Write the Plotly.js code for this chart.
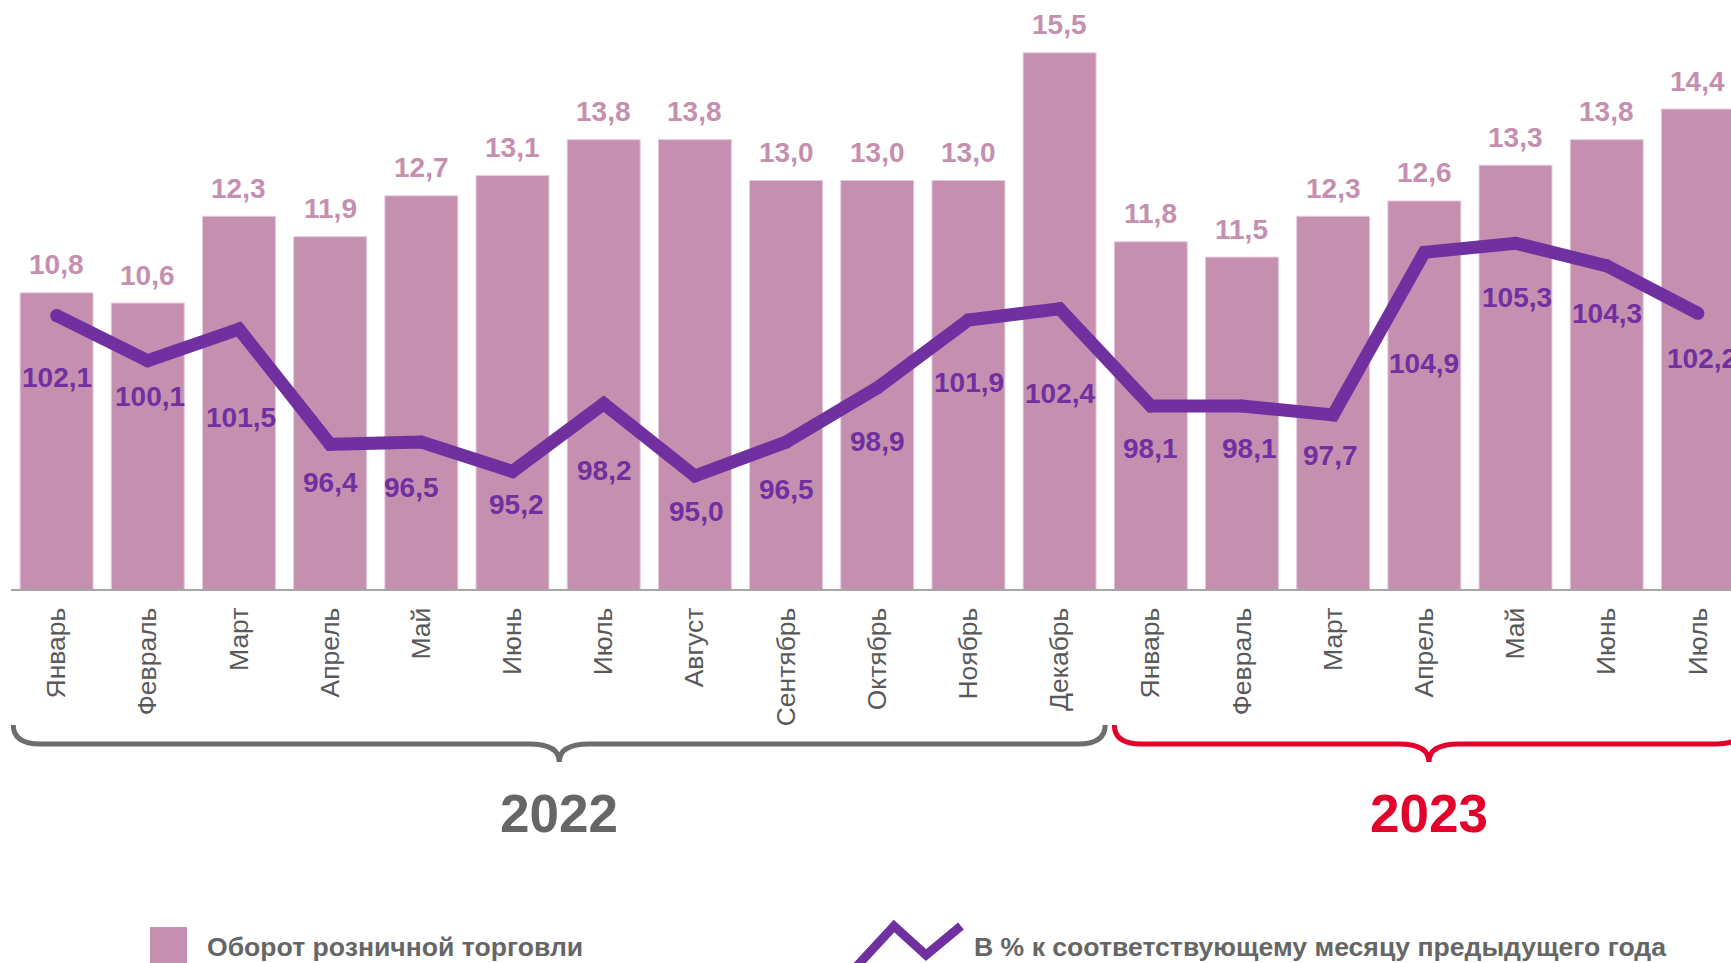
<!DOCTYPE html>
<html><head><meta charset="utf-8">
<script src="https://cdn.plot.ly/plotly-3.0.1.min.js"></script>
<style>html,body{margin:0;padding:0;background:#fff;}#chart{width:1731px;height:963px;}</style>
</head><body><div id="chart"></div>
<script>
// ---- data ----
const months = ['Январь','Февраль','Март','Апрель','Май','Июнь','Июль','Август','Сентябрь','Октябрь','Ноябрь','Декабрь','Январь','Февраль','Март','Апрель','Май','Июнь','Июль'];
const turnover = [10.8,10.6,12.3,11.9,12.7,13.1,13.8,13.8,13.0,13.0,13.0,15.5,11.8,11.5,12.3,12.6,13.3,13.8,14.4];
const yoyPercent = [102.1,100.1,101.5,96.4,96.5,95.2,98.2,95.0,96.5,98.9,101.9,102.4,98.1,98.1,97.7,104.9,105.3,104.3,102.2];
const years = ['2022','2023'];
const yearFirstIdx = [0,12];
const yearLastIdx = [11,18];
const seriesNames = ['Оборот розничной торговли','В % к соответствующему месяцу предыдущего года'];

// ---- style / layout helpers ----
const lineLabelDy = [62,36,88,38,45,33,67,35,47,54,62,85,43,43,41,111,54,48,45];
const lineLabelDx = [0,2,2,0,-10,4,1,2,0,0,1,0,0,8,-3,0,1,0,4];
const FONT = 'Liberation Sans, Arial, sans-serif';
const BAR = '#C58FB0', LINE = '#7030A0', GRAY = '#666666', RED = '#E3002B';
const W = 1731, H = 963, L = 11, R = 0, T = 0, B = 374;
const plotW = W - L - R, plotH = H - T - B;
const xr = [-0.5, 18.363];
const idx = months.map((m, i) => i);
const fmt = v => v.toFixed(1).replace('.', ',');
const xPix = i => L + (i - xr[0]) / (xr[1] - xr[0]) * plotW;
const px = X => (X - L) / plotW;
const py = Y => (T + plotH - Y) / plotH;

function brace(x0, x1, yT, yL, yTip, r, tr) {
  const xm = (x0 + x1) / 2;
  const p = (X, Y) => px(X) + ',' + py(Y);
  return 'M ' + p(x0, yT) + ' Q ' + p(x0, yL) + ' ' + p(x0 + r, yL) +
    ' L ' + p(xm - tr, yL) + ' Q ' + p(xm, yL) + ' ' + p(xm, yTip) +
    ' Q ' + p(xm, yL) + ' ' + p(xm + tr, yL) +
    ' L ' + p(x1 - r, yL) + ' Q ' + p(x1, yL) + ' ' + p(x1, yT);
}

const traces = [
  {type: 'bar', x: idx, y: turnover, name: seriesNames[0], yaxis: 'y',
   marker: {color: BAR, line: {color: '#E6CADB', width: 1}}, hoverinfo: 'skip'},
  {type: 'scatter', mode: 'lines+markers', x: idx, y: yoyPercent, name: seriesNames[1], yaxis: 'y2',
   line: {color: LINE, width: 13}, marker: {color: LINE, size: 13}, hoverinfo: 'skip'}
];

const annotations = [];
turnover.forEach((v, i) => annotations.push({
  x: i, y: v, xref: 'x', yref: 'y', text: fmt(v), showarrow: false,
  xanchor: 'center', yanchor: 'middle', yshift: 28,
  font: {family: FONT, size: 28, color: BAR, weight: 'bold'}
}));
yoyPercent.forEach((v, i) => annotations.push({
  x: i, y: v, xref: 'x', yref: 'y2', text: fmt(v), showarrow: false,
  xanchor: 'center', yanchor: 'middle', yshift: -lineLabelDy[i], xshift: lineLabelDx[i],
  font: {family: FONT, size: 28, color: LINE, weight: 'bold'}
}));
const yearColors = [GRAY, RED];
const braceLeft = [xPix(-0.475), xPix(11.6)];
const braceRight = [xPix(11.5), xPix(18.5)];
years.forEach((yr, k) => annotations.push({
  x: px((braceLeft[k] + braceRight[k]) / 2), y: py(813), xref: 'paper', yref: 'paper',
  text: '<b>' + yr + '</b>', showarrow: false, xanchor: 'center', yanchor: 'middle',
  font: {family: FONT, size: 53, color: yearColors[k]}
}));
annotations.push({x: px(205), y: py(947), xref: 'paper', yref: 'paper', text: '<b>' + seriesNames[0] + '</b>',
  showarrow: false, xanchor: 'left', yanchor: 'middle', font: {family: FONT, size: 26.6, color: GRAY}});
annotations.push({x: px(972), y: py(947), xref: 'paper', yref: 'paper', text: '<b>' + seriesNames[1] + '</b>',
  showarrow: false, xanchor: 'left', yanchor: 'middle', font: {family: FONT, size: 26.6, color: GRAY}});

const shapes = [];
years.forEach((yr, k) => shapes.push({
  type: 'path', xref: 'paper', yref: 'paper',
  path: brace(braceLeft[k], braceRight[k], 725, 744, 762, 27, 30),
  line: {color: k === 0 ? '#6D6D6D' : RED, width: 5}
}));
shapes.push({type: 'rect', xref: 'paper', yref: 'paper', x0: px(150), x1: px(187), y0: py(927), y1: py(970),
  fillcolor: BAR, line: {width: 0}});
shapes.push({type: 'path', xref: 'paper', yref: 'paper',
  path: 'M ' + px(857) + ',' + py(966) + ' L ' + px(894) + ',' + py(926) + ' L ' + px(926) + ',' + py(955) + ' L ' + px(961) + ',' + py(926),
  line: {color: LINE, width: 9}});

const layout = {
  width: W, height: H, margin: {l: L, r: R, t: T, b: B}, showlegend: false,
  paper_bgcolor: '#fff', plot_bgcolor: '#fff', bargap: 0.2, separators: ', ',
  font: {family: FONT},
  xaxis: {type: 'linear', range: xr, tickvals: idx, ticktext: months, tickangle: -90,
    tickfont: {family: FONT, size: 26.5, color: '#595959'}, ticks: 'outside', ticklen: 6,
    tickcolor: 'rgba(0,0,0,0)', showline: true, linecolor: '#A6A6A6', linewidth: 2,
    showgrid: false, zeroline: false, fixedrange: true},
  yaxis: {range: [5, 5 + plotH / 51.06], visible: false, showgrid: false, zeroline: false},
  yaxis2: {range: [90, 90 + plotH / 22.6], overlaying: 'y', side: 'right', visible: false,
    showgrid: false, zeroline: false},
  annotations: annotations, shapes: shapes
};

Plotly.newPlot('chart', traces, layout, {displayModeBar: false, staticPlot: true});
</script>
</body></html>
